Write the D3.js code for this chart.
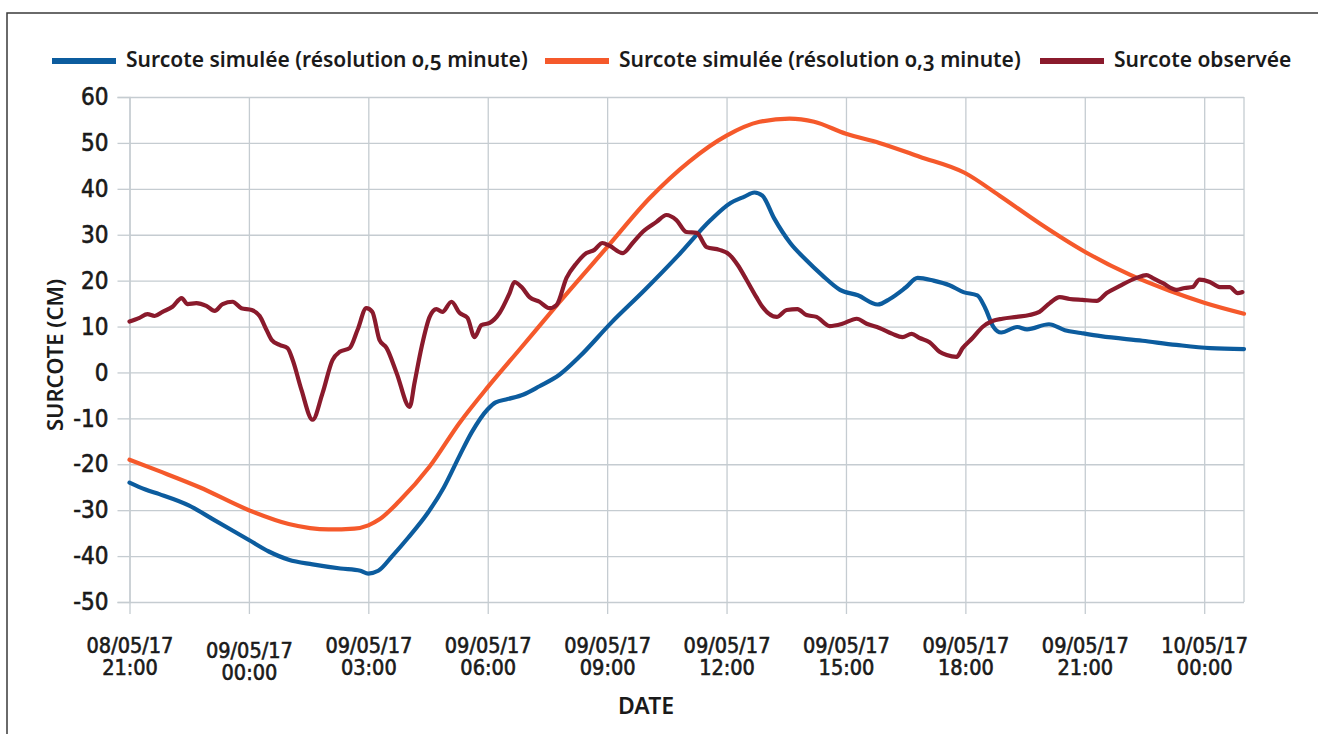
<!DOCTYPE html>
<html>
<head>
<meta charset="utf-8">
<script src="https://cdn.jsdelivr.net/npm/d3@7"></script>
<style>
  body { margin: 0; background: #fff; }
  .tick text { fill: #1a1a1a; }
</style>
</head>
<body>
<svg id="chart" width="1318" height="734"></svg>
<script>
// hours after 08/05/17 21:00, value in cm
const blue05 = [[0,-24],[0.4,-25.5],[0.75,-26.5],[1.5,-29],[2.1,-32],[3,-36.5],[3.5,-39],[4.0,-40.8],[4.6,-41.8],
  [5.3,-42.7],[5.8,-43.2],[6.0,-43.8],[6.25,-43.2],[6.6,-40],[7.0,-36],[7.5,-30.5],[7.9,-25],[8.3,-18],[8.6,-13],
  [9.0,-8],[9.2,-6.5],[9.5,-5.8],[9.9,-4.8],[10.3,-3],[10.8,-0.5],[11.3,3.4],[12.1,10.8],[12.95,18],[13.8,25.6],
  [14.6,33.2],[15.1,36.9],[15.45,38.3],[15.7,39.2],[15.9,38.5],[16.2,33.5],[16.6,28.2],[17.0,24.5],[17.4,21.2],
  [17.85,18],[18.3,16.8],[18.8,14.8],[19.1,16],[19.5,18.5],[19.8,20.6],[20.2,20],[20.6,19],[20.95,17.5],[21.3,16.8],
  [21.5,14],[21.7,10],[21.9,8.7],[22.3,9.9],[22.55,9.4],[23.1,10.5],[23.5,9.2],[23.9,8.6],[24.4,7.9],[25.45,6.9],
  [26.3,6],[27.15,5.3],[28,5.1]];

const orange03 = [[0,-19],[0.75,-21.5],[1.76,-25],[3,-30],[4.0,-33],[5.0,-34.2],[5.65,-34],[6.0,-33.3],[6.28,-32],
  [6.78,-28],[7.54,-20.5],[8.29,-11],[9,-3.2],[9.8,5],[10.8,15.3],[12,27.3],[13.07,38],[14.07,46],[15,51.6],
  [15.83,54.6],[16.58,55.3],[17.2,54.6],[18,52],[18.84,50],[19.85,47],[20.98,43.5],[21.86,38.5],[22.86,32.5],
  [24,26.3],[25.13,21.3],[26.13,17.8],[27,15.2],[28,12.8]];

const observed = [[0,11.1],[0.25,11.9],[0.45,12.7],[0.63,12.3],[0.83,13.2],[1.08,14.3],[1.31,16.2],[1.46,14.9],
  [1.68,15.1],[1.93,14.5],[2.14,13.4],[2.34,14.9],[2.59,15.4],[2.81,14],[3.07,13.6],[3.27,12.3],[3.44,9.3],
  [3.57,7.1],[3.77,6],[3.97,5.3],[4.1,2.7],[4.32,-3.8],[4.6,-10.3],[4.85,-4.5],[5.1,2.7],[5.28,4.5],[5.53,5.3],
  [5.73,9.3],[5.95,14],[6.1,13.2],[6.28,7.1],[6.46,5.3],[6.71,-0.1],[7.04,-7.5],[7.16,-2.3],[7.34,5.6],[7.54,12.1],
  [7.71,13.8],[7.86,13.2],[8.09,15.4],[8.29,13],[8.49,11.9],[8.67,7.7],[8.84,10.3],[9.05,10.8],[9.3,13],[9.55,17.3],
  [9.67,19.7],[9.85,18.6],[10.05,16.4],[10.3,15.4],[10.55,14],[10.73,14.7],[10.98,20.6],[11.23,23.8],[11.48,26],
  [11.68,26.7],[11.88,28.2],[12.06,27.6],[12.39,26],[12.64,28.2],[12.89,30.6],[13.24,32.8],[13.49,34.3],[13.74,33.2],
  [13.99,30.6],[14.25,30.4],[14.5,27.3],[14.82,26.7],[15.08,25.6],[15.28,23.4],[15.5,20.2],[15.75,16.4],[15.9,14.3],
  [16.26,12.1],[16.51,13.6],[16.78,13.8],[17.01,12.5],[17.26,12.1],[17.59,10.1],[17.91,10.6],[18.27,11.7],[18.52,10.6],
  [18.84,9.7],[19.17,8.4],[19.42,7.7],[19.65,8.4],[19.85,7.5],[20.1,6.6],[20.35,4.5],[20.53,3.8],[20.78,3.4],
  [20.93,5.3],[21.18,7.5],[21.43,9.9],[21.68,11.2],[21.93,11.7],[22.29,12.1],[22.61,12.5],[22.86,13.2],[23.12,15.1],
  [23.37,16.4],[23.62,16],[23.94,15.8],[24.3,15.6],[24.55,17.3],[24.87,18.8],[25.3,20.6],[25.55,21.2],[25.7,20.6],
  [25.95,19.5],[26.31,18],[26.51,18.4],[26.71,18.6],[26.88,20.2],[27.14,19.7],[27.39,18.6],[27.64,18.6],[27.84,17.3],
  [27.96,17.5]];

const seriesNames = ["Surcote simulée (résolution 0,5 minute)", "Surcote simulée (résolution 0,3 minute)", "Surcote observée"];
const seriesColors = ["#0c5c9e", "#f5592b", "#8a1a2c"];
const yTicks = [60, 50, 40, 30, 20, 10, 0, -10, -20, -30, -40, -50];
const xTickHours = [0, 3, 6, 9, 12, 15, 18, 21, 24, 27];

const svg = d3.select('#chart');
const W = +svg.attr('width');
const H = +svg.attr('height');
const start = new Date(2017, 4, 8, 21, 0);
const toDate = h => new Date(start.getTime() + h * 3600e3);

const margin = {top: 97, bottom: 132, left: 129.5, right: 74};
const innerW = W - margin.left - margin.right;
const innerH = H - margin.top - margin.bottom;

// outer frame
svg.append('rect').attr('x', 7).attr('y', 13).attr('width', W).attr('height', H)
  .attr('fill', 'none').attr('stroke', '#3a3a3a').attr('stroke-width', 1.5);

const x = d3.scaleTime().domain([toDate(0), toDate(28)]).range([0, innerW]);
const y = d3.scaleLinear().domain([-50, 60]).range([innerH, 0]);

const g = svg.append('g').attr('transform', 'translate(' + margin.left + ',' + margin.top + ')');
const gridCol = '#c5ccd1';
const tickFont = '"Liberation Sans Narrow", "DejaVu Sans Condensed", sans-serif';
const textFont = '"Noto Sans", sans-serif';

// horizontal grid + y ticks
g.append('g').call(d3.axisLeft(y).tickValues(yTicks).tickSize(-innerW).tickFormat(''))
  .call(a => a.select('.domain').remove())
  .selectAll('line').attr('stroke', gridCol).attr('stroke-width', 1.3);
const yAx = g.append('g').call(d3.axisLeft(y).tickValues(yTicks).tickSize(12).tickPadding(9).tickFormat(d => String(d)))
  .style('font-family', tickFont).style('font-size', '24px');
yAx.select('.domain').attr('stroke', gridCol).attr('stroke-width', 1.3);
yAx.selectAll('line').attr('stroke', gridCol).attr('stroke-width', 1.3);
yAx.selectAll('text').attr('stroke', '#1a1a1a').attr('stroke-width', 0.6);

// vertical grid + x ticks
g.append('g')
  .call(d3.axisBottom(x).tickValues(xTickHours.map(toDate)).tickSize(innerH + 12).tickFormat(''))
  .call(a => a.select('.domain').remove())
  .selectAll('line').attr('stroke', gridCol).attr('stroke-width', 1.3);

const xAx = g.append('g').attr('transform', 'translate(0,' + innerH + ')')
  .call(d3.axisBottom(x).tickValues(xTickHours.map(toDate)).tickSize(0).tickFormat(''));
xAx.select('.domain').remove();
const fmtDay = d3.timeFormat('%d/%m/%y');
const fmtHour = d3.timeFormat('%H:%M');
xAx.selectAll('.tick').each(function(d, i) {
  const t = d3.select(this).append('text')
    .attr('fill', '#1a1a1a').attr('stroke', '#1a1a1a').attr('stroke-width', 0.6)
    .attr('text-anchor', 'middle')
    .style('font-family', tickFont).style('font-size', '21.5px')
    .attr('y', i === 1 ? 56 : 51);
  t.append('tspan').attr('x', 0).text(fmtDay(d));
  t.append('tspan').attr('x', 0).attr('dy', 22).text(fmtHour(d));
});

// right border
g.append('line').attr('x1', innerW).attr('x2', innerW).attr('y1', 0).attr('y2', innerH)
  .attr('stroke', gridCol).attr('stroke-width', 1.3);

// lines
const line = d3.line().x(d => x(toDate(d[0]))).y(d => y(d[1])).curve(d3.curveMonotoneX);
[blue05, orange03, observed].forEach((s, i) => {
  g.append('path').datum(s).attr('d', line)
    .attr('fill', 'none').attr('stroke', seriesColors[i]).attr('stroke-width', 4.2)
    .attr('stroke-linejoin', 'round').attr('stroke-linecap', 'round');
});

// axis titles
svg.append('text').text('SURCOTE (CM)')
  .attr('transform', 'translate(63,355) rotate(-90)')
  .attr('text-anchor', 'middle')
  .style('font-family', textFont).style('font-size', '22px').style('font-weight', 600).attr('fill', '#1a1a1a');
svg.append('text').text('DATE')
  .attr('x', 646).attr('y', 714).attr('text-anchor', 'middle')
  .style('font-family', textFont).style('font-size', '23px').style('font-weight', 600).attr('fill', '#1a1a1a');

// legend
const legendX = [52, 545, 1040];
const legend = svg.append('g');
seriesNames.forEach((n, i) => {
  legend.append('line').attr('x1', legendX[i]).attr('x2', legendX[i] + 64).attr('y1', 61).attr('y2', 61)
    .attr('stroke', seriesColors[i]).attr('stroke-width', 6);
  legend.append('text').text(n).attr('x', legendX[i] + 74).attr('y', 67)
    .style('font-family', textFont).style('font-size', '21px').style('font-weight', 600)
    .style('font-variant-numeric', 'oldstyle-nums').attr('fill', '#1a1a1a');
});
</script>
</body>
</html>
